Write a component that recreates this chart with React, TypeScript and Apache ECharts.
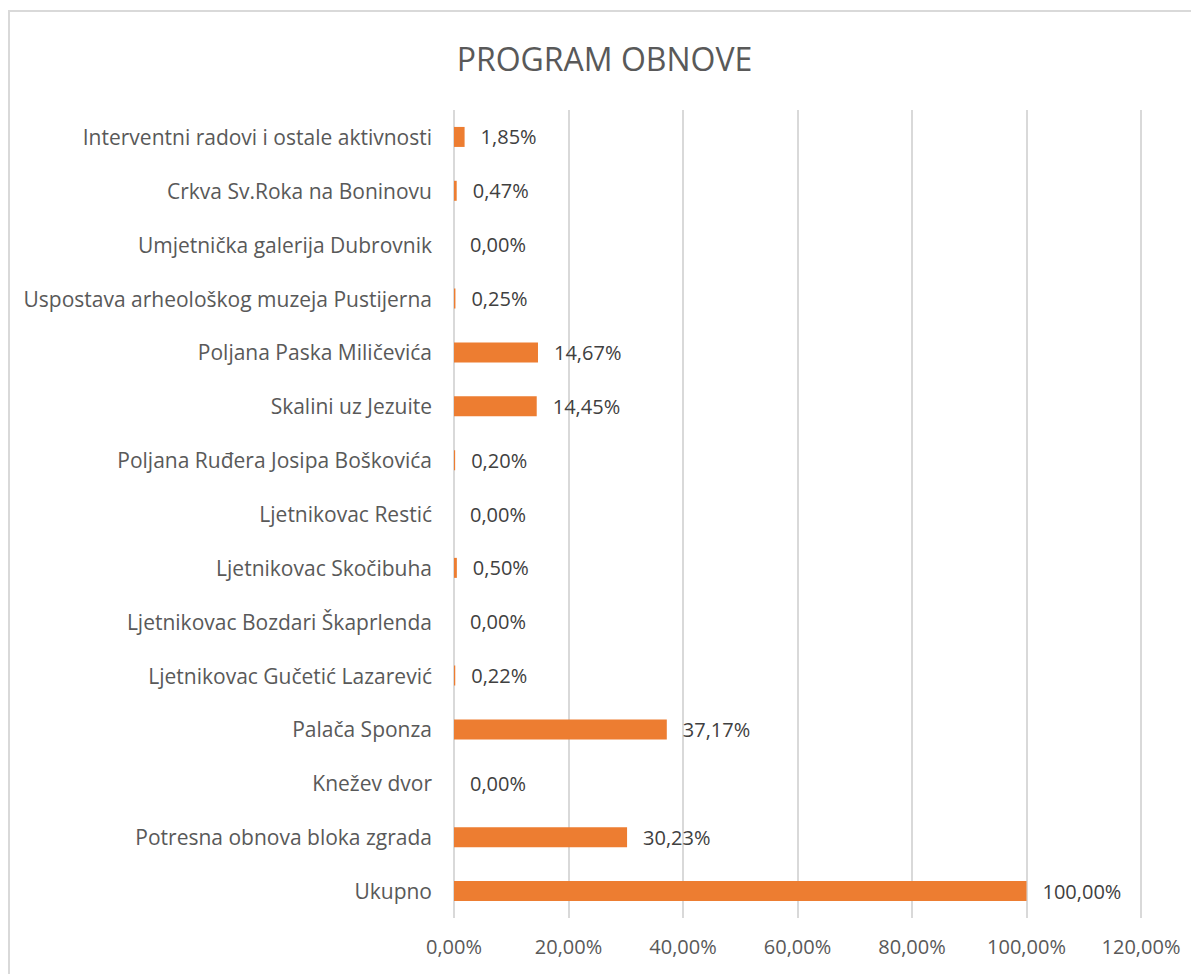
import React, { useEffect, useRef } from "react";
import * as echarts from "echarts";

const categories = [
  "Ukupno",
  "Potresna obnova bloka zgrada",
  "Knežev dvor",
  "Palača Sponza",
  "Ljetnikovac Gučetić Lazarević",
  "Ljetnikovac Bozdari Škaprlenda",
  "Ljetnikovac Skočibuha",
  "Ljetnikovac Restić",
  "Poljana Ruđera Josipa Boškovića",
  "Skalini uz Jezuite",
  "Poljana Paska Miličevića",
  "Uspostava arheološkog muzeja Pustijerna",
  "Umjetnička galerija Dubrovnik",
  "Crkva Sv.Roka na Boninovu",
  "Interventni radovi i ostale aktivnosti",
];
const values = [100, 30.23, 0, 37.17, 0.22, 0, 0.5, 0, 0.2, 14.45, 14.67, 0.25, 0, 0.47, 1.85];

const fmt = (v: number) => v.toFixed(2).replace(".", ",") + "%";
const FONT = "'Open Sans', sans-serif";

export default function App() {
  const ref = useRef<HTMLDivElement>(null);
  useEffect(() => {
    if (!ref.current) return;
    const chart = echarts.init(ref.current, null, { renderer: "svg" });
    chart.setOption({
      animation: false,
      backgroundColor: "#fff",
      title: {
        text: "PROGRAM OBNOVE",
        left: "center",
        top: 25,
        textStyle: { fontFamily: FONT, fontSize: 32, fontWeight: "normal", color: "#595959" },
      },
      grid: { left: 444, right: 58, top: 98, bottom: 56, containLabel: false },
      xAxis: {
        type: "value",
        min: 0,
        max: 120,
        interval: 20,
        axisLine: { show: false },
        axisTick: { show: false },
        splitLine: { show: true, lineStyle: { color: "#d9d9d9", width: 2 } },
        axisLabel: {
          formatter: (v: number) => fmt(v),
          color: "#595959",
          fontFamily: FONT,
          fontSize: 20,
          margin: 18,
        },
      },
      yAxis: {
        type: "category",
        data: categories,
        axisLine: { show: false },
        axisTick: { show: false },
        axisLabel: { color: "#595959", fontFamily: FONT, fontSize: 21, margin: 22 },
      },
      series: [
        {
          type: "bar",
          data: values,
          barWidth: 20,
          itemStyle: { color: "#ED7D31" },
          label: {
            show: true,
            position: "right",
            distance: 16,
            formatter: (p: any) => fmt(p.value),
            color: "#404040",
            fontFamily: FONT,
            fontSize: 20,
          },
        },
      ],
    });
    return () => chart.dispose();
  }, []);
  return (
    <div
      style={{
        marginTop: 2,
        width: 1191,
        height: 964,
        boxSizing: "border-box",
        borderLeft: "2px solid #d9d9d9",
        borderTop: "2px solid #d9d9d9",
      }}
    >
      <div ref={ref} style={{ width: 1189, height: 962 }} />
    </div>
  );
}
